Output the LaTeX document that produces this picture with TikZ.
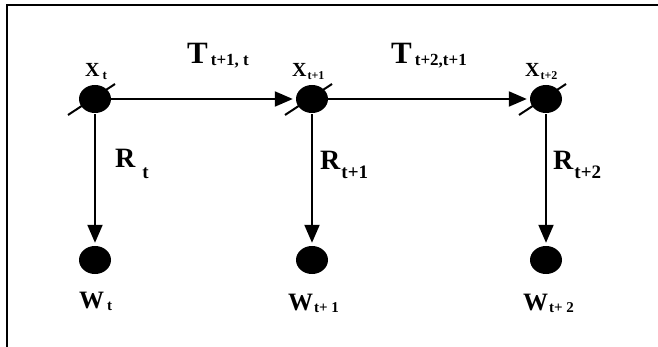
\documentclass[tikz,border=0pt]{standalone}
\usepackage{fontspec}
\setmainfont{Liberation Serif}
\usetikzlibrary{arrows.meta,shapes.geometric}
\newcommand\mylbl[6]{{\fontsize{#1}{#1}\selectfont #4}\hspace{#6}\raisebox{-#3}{\fontsize{#2}{#2}\selectfont #5}}
\begin{document}
\begin{tikzpicture}[x=1pt,y=-1pt,
  dot/.style={ellipse,fill=black,draw=none,minimum width=32pt,minimum height=28pt,inner sep=0pt},
  arr/.style={line width=2pt,-{Triangle[length=18pt,width=15pt]}},
  slash/.style={line width=2pt},
  lbl/.style={inner sep=0pt,font=\bfseries,anchor=base west},
  frame/.style={line width=2.6pt}
]
\useasboundingbox (0,0) rectangle (658,347);
\draw[frame] (7,347) -- (7,5) -- (658,5);

% state nodes
\node[dot] (x0) at (95,99) {};
\node[dot] (x1) at (312,99) {};
\node[dot] (x2) at (546,99) {};
% observation nodes
\node[dot] (w0) at (95,260) {};
\node[dot] (w1) at (312,260) {};
\node[dot] (w2) at (546,260) {};

% slashes through states
\foreach \n in {x0,x1,x2}{
  \draw[slash] ([shift={(-27,16)}]\n.center) -- ([shift={(20,-15)}]\n.center);
}

% transitions
\draw[arr,shorten >=3pt] (x0) -- (x1);
\draw[arr,shorten >=3pt] (x1) -- (x2);
% emissions
\draw[arr,shorten <=1pt,shorten >=3pt] (x0) -- (w0);
\draw[arr,shorten <=1pt,shorten >=3pt] (x1) -- (w1);
\draw[arr,shorten <=1pt,shorten >=3pt] (x2) -- (w2);

% X labels
\node[lbl] (lx0) at (85,77) {\mylbl{20}{13}{3pt}{X}{t}{3pt}};
\node[lbl] (lx1) at (292,77) {\mylbl{20}{12}{3pt}{X}{t+1}{1pt}};
\node[lbl] (lx2) at (525,77) {\mylbl{20}{12}{3pt}{X}{t+2}{1pt}};

% T labels
\node[lbl] (lt0) at (187,64) {\mylbl{31}{17}{2pt}{T}{t+1, t}{3pt}};
\node[lbl] (lt1) at (391,64) {\mylbl{31}{17}{2pt}{T}{t+2,t+1}{3pt}};

% R labels
\node[lbl] (lr0) at (115,168) {\mylbl{28}{19}{11pt}{R}{t}{7pt}};
\node[lbl] (lr1) at (320,170) {\mylbl{28}{19}{9pt}{R}{t+1}{1pt}};
\node[lbl] (lr2) at (553,170) {\mylbl{28}{19}{9pt}{R}{t+2}{1pt}};

% W labels
\node[lbl] (lw0) at (79,308) {\mylbl{25}{15}{2pt}{W}{t}{3pt}};
\node[lbl] (lw1) at (288,310) {\mylbl{25}{15}{2pt}{W}{t+ 1}{1pt}};
\node[lbl] (lw2) at (523,310) {\mylbl{25}{15}{2pt}{W}{t+ 2}{1pt}};
\end{tikzpicture}
\end{document}
